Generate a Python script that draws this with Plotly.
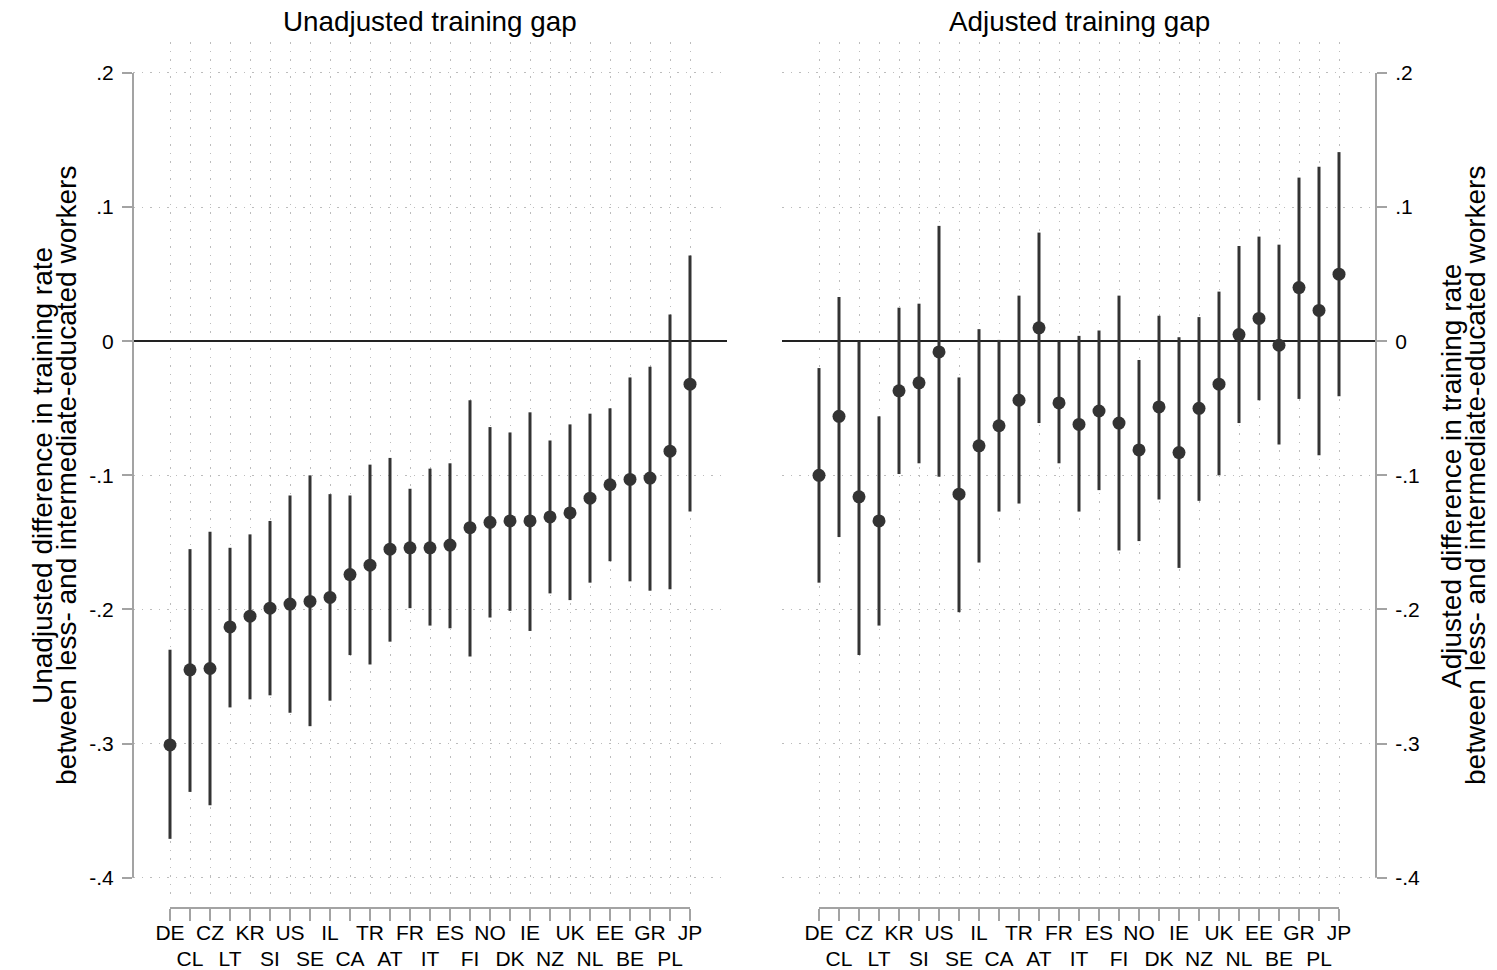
import plotly.graph_objects as go

countries = ["DE", "CL", "CZ", "LT", "KR", "SI", "US", "SE", "IL", "CA", "TR", "AT", "FR", "IT",
             "ES", "FI", "NO", "DK", "IE", "NZ", "UK", "NL", "EE", "BE", "GR", "PL", "JP"]

# Unadjusted training gap: point estimate, upper and lower CI bounds
unadj_est = [-0.301, -0.245, -0.244, -0.213, -0.205, -0.199, -0.196, -0.194, -0.191, -0.174,
             -0.167, -0.155, -0.154, -0.154, -0.152, -0.139, -0.135, -0.134, -0.134, -0.131,
             -0.128, -0.117, -0.107, -0.103, -0.102, -0.082, -0.032]
unadj_hi = [-0.230, -0.155, -0.142, -0.154, -0.144, -0.134, -0.115, -0.100, -0.114, -0.115,
            -0.092, -0.087, -0.110, -0.095, -0.091, -0.044, -0.064, -0.068, -0.053, -0.074,
            -0.062, -0.054, -0.050, -0.027, -0.019, 0.020, 0.064]
unadj_lo = [-0.371, -0.336, -0.346, -0.273, -0.267, -0.264, -0.277, -0.287, -0.268, -0.234,
            -0.241, -0.224, -0.199, -0.212, -0.214, -0.235, -0.206, -0.201, -0.216, -0.188,
            -0.193, -0.180, -0.164, -0.179, -0.186, -0.185, -0.127]

# Adjusted training gap
adj_est = [-0.100, -0.056, -0.116, -0.134, -0.037, -0.031, -0.008, -0.114, -0.078, -0.063,
           -0.044, 0.010, -0.046, -0.062, -0.052, -0.061, -0.081, -0.049, -0.083, -0.050,
           -0.032, 0.005, 0.017, -0.003, 0.040, 0.023, 0.050]
adj_hi = [-0.020, 0.033, 0.000, -0.056, 0.025, 0.028, 0.086, -0.027, 0.009, 0.001,
          0.034, 0.081, 0.000, 0.004, 0.008, 0.034, -0.014, 0.019, 0.003, 0.018,
          0.037, 0.071, 0.078, 0.072, 0.122, 0.130, 0.141]
adj_lo = [-0.180, -0.146, -0.234, -0.212, -0.099, -0.091, -0.101, -0.202, -0.165, -0.127,
          -0.121, -0.061, -0.091, -0.127, -0.111, -0.156, -0.149, -0.118, -0.169, -0.119,
          -0.100, -0.061, -0.044, -0.077, -0.043, -0.085, -0.041]

y_tickvals = [0.2, 0.1, 0.0, -0.1, -0.2, -0.3, -0.4]
y_ticktext = [".2", ".1", "0", "-.1", "-.2", "-.3", "-.4"]

panel_titles = ["Unadjusted training gap", "Adjusted training gap"]
left_title_lines = ["Unadjusted difference in training rate",
                    "between less- and intermediate-educated workers"]
right_title_lines = ["Adjusted difference in training rate",
                     "between less- and intermediate-educated workers"]

W, H = 1497, 970
FONT = "Liberation Sans, Arial, sans-serif"
DARK = "#333333"
AXC = "#a3a3a3"
GRIDC = "#bcbcbc"

xs = list(range(len(countries)))
# labels alternate between an upper row (even positions) and a lower row (odd positions)
row1_text = [c if i % 2 == 0 else "" for i, c in enumerate(countries)]
row2_vals = [i for i in xs if i % 2 == 1]
row2_text = [countries[i] for i in row2_vals]


def px(x):
    return x / W


def py(y):
    return 1 - y / H


fig = go.Figure()
for est, hi, lo, xa, xa_row2, ya in [(unadj_est, unadj_hi, unadj_lo, "x", "x3", "y"),
                                     (adj_est, adj_hi, adj_lo, "x2", "x4", "y2")]:
    fig.add_trace(go.Scatter(
        x=xs, y=est, xaxis=xa, yaxis=ya, mode="markers",
        marker=dict(size=13, color=DARK),
        error_y=dict(type="data", symmetric=False,
                     array=[h - e for h, e in zip(hi, est)],
                     arrayminus=[e - l for e, l in zip(est, lo)],
                     width=0, thickness=3, color=DARK),
        showlegend=False, hoverinfo="skip"))
    # invisible companion trace so the lower label row axis is drawn
    fig.add_trace(go.Scatter(
        x=xs, y=est, xaxis=xa_row2, yaxis=ya, mode="markers",
        marker=dict(size=1, opacity=0), showlegend=False, hoverinfo="skip"))

xrange = [-1.85, 27.85]
yrange = [-0.4166, 0.2231]
ydom = [py(900), py(42)]
xpos = py(908)
xpos_row2 = py(944)

common_x = dict(range=xrange, tickmode="array", tickvals=xs, ticktext=row1_text, tickangle=0,
                ticks="outside", ticklen=12, tickwidth=2, tickcolor=AXC,
                showgrid=True, gridcolor=GRIDC, gridwidth=1, griddash="1.5px,7px",
                zeroline=False, showline=False, anchor="free", position=xpos,
                automargin=False, ticklabelstandoff=-6,
                tickfont=dict(family=FONT, size=21, color="black"), fixedrange=True)
row2_x = dict(range=xrange, tickmode="array", tickvals=row2_vals, ticktext=row2_text,
              tickangle=0, ticks="", showgrid=False, zeroline=False, showline=False,
              anchor="free", position=xpos_row2, automargin=False,
              tickfont=dict(family=FONT, size=21, color="black"), fixedrange=True)
common_y = dict(range=yrange, domain=ydom, tickmode="array", tickvals=y_tickvals,
                ticktext=y_ticktext, ticks="outside", ticklen=10, tickwidth=2, tickcolor=AXC,
                showgrid=True, gridcolor=GRIDC, gridwidth=1, griddash="1.5px,7px",
                zeroline=True, zerolinecolor="#222222", zerolinewidth=2, showline=False,
                automargin=False,
                tickfont=dict(family=FONT, size=21, color="black"), ticklabelstandoff=4,
                fixedrange=True)

fig.update_layout(
    width=W, height=H, autosize=False, margin=dict(l=0, r=0, t=0, b=0, pad=0),
    paper_bgcolor="white", plot_bgcolor="white",
    xaxis=dict(domain=[px(133), px(727)], **common_x),
    xaxis2=dict(domain=[px(782), px(1376)], **common_x),
    xaxis3=dict(overlaying="x", **row2_x),
    xaxis4=dict(overlaying="x2", **row2_x),
    yaxis=dict(anchor="x", side="left", **common_y),
    yaxis2=dict(anchor="x2", side="right", **common_y),
)

shapes = [
    dict(type="line", xref="paper", yref="y", x0=px(133), x1=px(133), y0=-0.4, y1=0.2,
         line=dict(color=AXC, width=2)),
    dict(type="line", xref="paper", yref="y2", x0=px(1376), x1=px(1376), y0=-0.4, y1=0.2,
         line=dict(color=AXC, width=2)),
    dict(type="line", xref="x", yref="paper", x0=xs[0], x1=xs[-1], y0=xpos, y1=xpos,
         line=dict(color=AXC, width=2)),
    dict(type="line", xref="x2", yref="paper", x0=xs[0], x1=xs[-1], y0=xpos, y1=xpos,
         line=dict(color=AXC, width=2)),
]
fig.update_layout(shapes=shapes)

ann = []
for t, cx in zip(panel_titles, [430, 1079]):
    ann.append(dict(text=t, x=px(cx), y=py(21), xref="paper", yref="paper",
                    xanchor="center", yanchor="middle", showarrow=False,
                    font=dict(family=FONT, size=27.8, color="black")))
for lines, xs_px in [(left_title_lines, [42, 66]), (right_title_lines, [1451, 1475])]:
    for line, lx in zip(lines, xs_px):
        ann.append(dict(text=line, x=px(lx), y=py(476), xref="paper", yref="paper",
                        xanchor="center", yanchor="middle", textangle=-90, showarrow=False,
                        font=dict(family=FONT, size=28, color="black")))
fig.update_layout(annotations=ann)

fig.write_html("out.html", config={"displayModeBar": False, "responsive": False},
               post_script="document.body.style.margin='0px';document.body.style.padding='0px';")
